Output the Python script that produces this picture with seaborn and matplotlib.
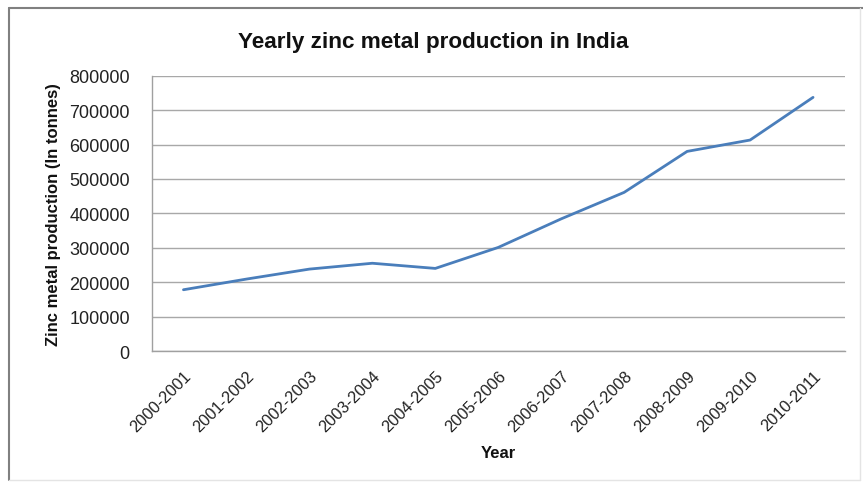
import matplotlib
matplotlib.use("Agg")
import matplotlib.pyplot as plt
from matplotlib import font_manager
from matplotlib.lines import Line2D
from matplotlib.ticker import FixedLocator
import seaborn as sns
import pandas as pd
import numpy as np

# Yearly zinc metal production (tonnes)
years = ["2000-2001", "2001-2002", "2002-2003", "2003-2004", "2004-2005",
         "2005-2006", "2006-2007", "2007-2008", "2008-2009", "2009-2010",
         "2010-2011"]
production = [178000, 209000, 238000, 255000, 240000,
              301000, 384000, 461000, 580000, 613000, 737000]
y_ticks = [0, 100000, 200000, 300000, 400000, 500000, 600000, 700000, 800000]

sns.set_style("white")
installed = {f.name for f in font_manager.fontManager.ttflist}
family = ["Liberation Sans Narrow"] if "Liberation Sans Narrow" in installed else ["Liberation Sans"]
plt.rcParams["font.family"] = family + ["DejaVu Sans"]

df = pd.DataFrame({"pos": np.arange(len(years)), "production": production})

fig = plt.figure(figsize=(8.63, 4.85), dpi=100)
ax = fig.add_axes([0.1761, 0.2742, 0.8025, 0.5677])

sns.lineplot(data=df, x="pos", y="production", ax=ax, color="#4A7EBB",
             linewidth=2.0, solid_capstyle="round")

ax.set_xlim(-0.5, len(years) - 0.5)
ax.set_ylim(0, 800000)
ax.yaxis.set_major_locator(FixedLocator(y_ticks))
ax.set_yticklabels([str(v) for v in y_ticks], fontsize=13, color="#222222")
ax.grid(axis="y", color="#A8A8A8", linewidth=1.0)
ax.set_axisbelow(True)

# Category labels at centres, tick marks at the boundaries
ax.xaxis.set_major_locator(FixedLocator(df["pos"].tolist()))
ax.set_xticklabels(years, rotation=45, ha="right", rotation_mode="anchor",
                   fontsize=11.8, color="#222222")
ax.xaxis.set_minor_locator(FixedLocator(np.arange(-0.5, len(years), 1.0)))
ax.tick_params(axis="x", which="major", length=0, pad=12)
ax.tick_params(axis="x", which="minor", length=5, color="#A0A0A0", direction="out")
ax.tick_params(axis="y", which="major", length=5, color="#A0A0A0", direction="out", pad=11)

for side in ["top", "right"]:
    ax.spines[side].set_visible(False)
for side in ["left", "bottom"]:
    ax.spines[side].set_color("#A0A0A0")
    ax.spines[side].set_linewidth(1.0)

ax.set_xlabel("Year", fontsize=12, fontweight="bold", color="#111111")
ax.set_ylabel("Zinc metal production (In tonnes)", fontsize=12, fontweight="bold",
              color="#111111")
ax.xaxis.set_label_coords(0.5, -0.343)
ax.yaxis.set_label_coords(-0.132, 0.5)

fig.text(0.502, 0.913, "Yearly zinc metal production in India", ha="center",
         va="center", fontsize=16.2, fontweight="bold", color="#111111")

# Chart frame
W, H = 863, 485
fig.add_artist(Line2D([9 / W, 9 / W], [1 - 9 / H, 1 - 481 / H], color="#808080",
                      linewidth=1.5, transform=fig.transFigure))
fig.add_artist(Line2D([9 / W, 1.0], [1 - 9 / H, 1 - 9 / H], color="#808080",
                      linewidth=1.5, transform=fig.transFigure))
fig.add_artist(Line2D([9 / W, 860 / W], [1 - 481 / H, 1 - 481 / H], color="#E4E4E4",
                      linewidth=1.0, transform=fig.transFigure))
fig.add_artist(Line2D([860 / W, 860 / W], [1 - 9 / H, 1 - 481 / H], color="#E4E4E4",
                      linewidth=1.0, transform=fig.transFigure))

fig.savefig("out.png", dpi=100, facecolor="white")
